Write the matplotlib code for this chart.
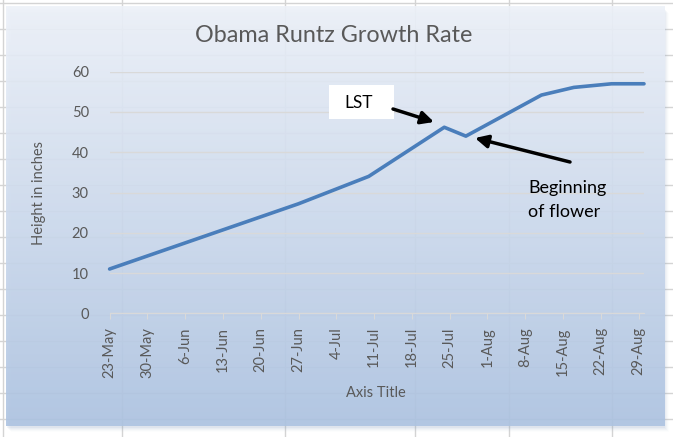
import datetime as dt
import numpy as np
import matplotlib.pyplot as plt
from matplotlib.patches import Rectangle

# data
dates = ["2020-05-23", "2020-06-27", "2020-07-10", "2020-07-24", "2020-07-28",
         "2020-08-11", "2020-08-17", "2020-08-24", "2020-08-30"]
heights = [11, 27.2, 34, 46.2, 44, 54.2, 56.1, 57, 57]

tick_dates = ["2020-05-23", "2020-05-30", "2020-06-06", "2020-06-13", "2020-06-20",
              "2020-06-27", "2020-07-04", "2020-07-11", "2020-07-18", "2020-07-25",
              "2020-08-01", "2020-08-08", "2020-08-15", "2020-08-22", "2020-08-29"]
tick_labels = ["23-May", "30-May", "6-Jun", "13-Jun", "20-Jun", "27-Jun", "4-Jul",
               "11-Jul", "18-Jul", "25-Jul", "1-Aug", "8-Aug", "15-Aug", "22-Aug", "29-Aug"]
y_ticks = [0, 10, 20, 30, 40, 50, 60]

title = "Obama Runtz Growth Rate"
x_title = "Axis Title"
y_title = "Height in inches"

W, H = 673, 437
FONT = ["Lato", "DejaVu Sans"]
GREY = "#595959"


def to_date(s):
    return dt.datetime.strptime(s, "%Y-%m-%d")


def fx(px):
    return px / W


def fy(py):
    return 1 - py / H


def pixel_axes(fig):
    a = fig.add_axes([0, 0, 1, 1])
    a.set_xlim(0, W)
    a.set_ylim(H, 0)
    a.axis("off")
    a.patch.set_visible(False)
    return a


fig = plt.figure(figsize=(W / 100, H / 100), dpi=100)

# spreadsheet behind the chart
bg = pixel_axes(fig)
for x in [3, 122, 284.5, 414.6, 509.4, 611.6]:
    bg.axvline(x, color="#d4d4d4", lw=1, zorder=1)
for y in np.arange(3.3, H, 26):
    bg.axhline(y, color="#d4d4d4", lw=1, zorder=1)

# chart shadow
left, right, top, bottom = 5.5, 664, 6.5, 426
for i, a in enumerate([0.10, 0.08, 0.06, 0.04, 0.02]):
    bg.add_patch(Rectangle((left + 1 + i, top + 2 + i), right - left, bottom - top,
                           facecolor="#8fa6c4", edgecolor="none", alpha=a, zorder=1.5))

# gradient fill of chart area
c_top = np.array([238, 242, 249]) / 255
c_bot = np.array([173, 195, 225]) / 255
t = np.linspace(0, 1, 256)[:, None]
grad = (c_top * (1 - t) + c_bot * t)[:, None, :]
bg.imshow(grad, extent=[left, right, bottom, top], aspect="auto", alpha=0.9,
          interpolation="bilinear", zorder=2)
bg.set_xlim(0, W)
bg.set_ylim(H, 0)

# plot area
p_left, p_right, p_top, p_bot = 109.6, 644, 71.7, 313.3
ax = fig.add_axes([fx(p_left), fy(p_bot), fx(p_right - p_left), (p_bot - p_top) / H])
ax.patch.set_visible(False)

xs = [to_date(d) for d in dates]
ax.plot(xs, heights, color="#4a7ebb", lw=2.6, solid_joinstyle="round",
        solid_capstyle="round", zorder=3, clip_on=False)

ax.set_xlim(to_date(dates[0]), to_date(dates[-1]))
ax.set_ylim(0, 60)
ax.set_yticks(y_ticks)
ax.set_xticks([to_date(d) for d in tick_dates])
ax.set_xticklabels(tick_labels, rotation=90, fontsize=10.5, color=GREY, family=FONT)
ax.set_yticklabels([str(v) for v in y_ticks], fontsize=10.5, color=GREY, family=FONT)
ax.grid(axis="y", color="#d9d9d9", lw=1)
ax.tick_params(axis="y", length=0, pad=15)
ax.tick_params(axis="x", length=4, color="#d9d9d9", pad=6)
for s in ["top", "right", "left"]:
    ax.spines[s].set_visible(False)
ax.spines["bottom"].set_color("#d9d9d9")

# titles
fig.text(fx(334), fy(36), title, fontsize=16.8, color=GREY, family=FONT,
         ha="center", va="center")
fig.text(fx(376), fy(393), x_title, fontsize=10.5, color=GREY, family=FONT,
         ha="center", va="center")
fig.text(fx(39), fy(193), y_title, fontsize=10.5, color=GREY, family=FONT,
         ha="center", va="center", rotation=90)

# annotations sit above the plot
top_ax = pixel_axes(fig)
top_ax.add_patch(Rectangle((329, 85), 65, 34, facecolor="white", edgecolor="none"))
top_ax.text(344, 103, "LST", fontsize=12.5, color="black", family=FONT,
            ha="left", va="center")
arrow = dict(arrowstyle="-|>", lw=2.5, color="black", mutation_scale=19,
             shrinkA=0, shrinkB=0)
top_ax.annotate("", xy=(434, 122), xytext=(393, 109), arrowprops=arrow)
top_ax.annotate("", xy=(475, 138), xytext=(570, 162), arrowprops=arrow)
top_ax.text(528, 188, "Beginning", fontsize=13, color="black", family=FONT,
            ha="left", va="center")
top_ax.text(528, 212, "of flower", fontsize=13, color="black", family=FONT,
            ha="left", va="center")

fig.savefig("out.png", dpi=100)
